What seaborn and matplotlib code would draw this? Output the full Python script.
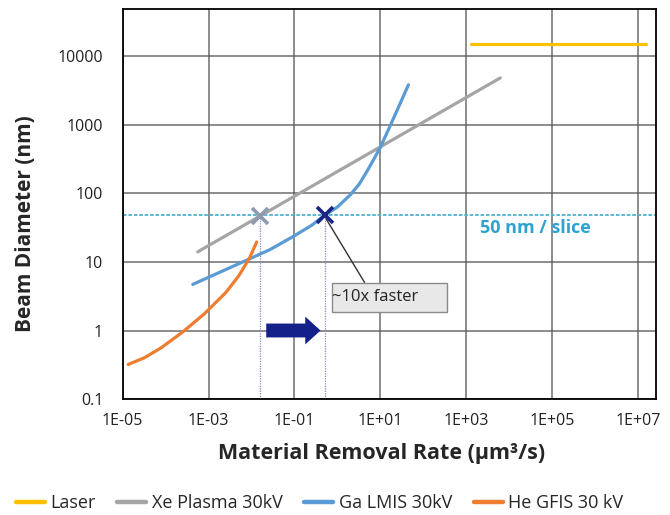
import numpy as np
import pandas as pd
import matplotlib
matplotlib.use("Agg")
import matplotlib.pyplot as plt
from matplotlib.patches import Rectangle
import seaborn as sns

# values (log-log chart)
laser_x = [1.3e3, 1.5e7]
laser_y = [15200, 15200]

xe_x = [5.6e-4, 6.2e3]
xe_y = [14, 4800]

ga_x = [4.3e-4, 1.6e-3, 6.3e-3, 0.027, 0.093, 0.25, 0.51, 1.0, 2.0, 3.2, 5.0, 7.1, 10, 16, 25, 45]
ga_y = [4.7, 6.8, 10.0, 15.1, 23.4, 34, 48, 63, 95, 135, 214, 316, 468, 890, 1660, 3800]

he_x = [1.35e-5, 3.2e-5, 7.9e-5, 2.5e-4, 7.9e-4, 2.5e-3, 5.0e-3, 8.9e-3, 1.32e-2]
he_y = [0.32, 0.40, 0.56, 0.95, 1.74, 3.55, 6.2, 11.2, 19.5]

slice_nm = 48
xe_mark = (0.0158, 47)
ga_mark = (0.51, 48)

x_ticks = [1e-5, 1e-3, 1e-1, 1e1, 1e3, 1e5, 1e7]
x_labels = ["1E-05", "1E-03", "1E-01", "1E+01", "1E+03", "1E+05", "1E+07"]
y_ticks = [0.1, 1, 10, 100, 1000, 10000]
y_labels = ["0.1", "1", "10", "100", "1000", "10000"]

series = [
    ("Laser", laser_x, laser_y, "#ffc000"),
    ("Xe Plasma 30kV", xe_x, xe_y, "#a5a5a5"),
    ("Ga LMIS 30kV", ga_x, ga_y, "#5b9bd5"),
    ("He GFIS 30 kV", he_x, he_y, "#ed7d31"),
]

sns.set_theme(style="white")
plt.rcParams["font.family"] = ["Open Sans", "DejaVu Sans"]

fig = plt.figure(figsize=(6.7, 5.15), dpi=100)
ax = fig.add_axes([0.183, 0.225, 0.796, 0.757])
ax.set_xscale("log")
ax.set_yscale("log")
ax.set_xlim(1e-5, 2.6e7)
ax.set_ylim(0.1, 4.8e4)

# grid
for v in x_ticks:
    ax.axvline(v, color="#555555", lw=1.1, alpha=0.85, zorder=1)
for v in y_ticks:
    ax.axhline(v, color="#555555", lw=1.1, alpha=0.85, zorder=1)

# 50 nm / slice line
ax.axhline(slice_nm, color="#4fb0d0", lw=1.3, ls=(0, (2, 1)), zorder=2)
ax.text(2100, 31, "50 nm / slice", color="#2ea3d0", fontsize=13,
        fontweight="bold", va="center", ha="left")

# vertical dotted guides
for mx, my in [xe_mark, ga_mark]:
    ax.plot([mx, mx], [0.1, my], color="#7f8cc4", lw=0.9, ls=(0, (1, 1)), zorder=2)

handles = []
for name, xs, ys, col in series:
    sns.lineplot(x=xs, y=ys, ax=ax, color=col, lw=2.3, label=name, zorder=3,
                 legend=False)
    handles.append(plt.Line2D([], [], color=col, lw=3.2))

# markers
ax.plot(*xe_mark, marker="x", ms=12, mew=2.6, color="#8e9bb0", zorder=5)
ax.plot(*ga_mark, marker="x", ms=12, mew=2.6, color="#1b2585", zorder=5)

# callout
ax.plot([0.55, 4.3], [42, 5.0], color="#333333", lw=1.0, zorder=4)
ax.add_patch(Rectangle((0.73, 1.88), 355 - 0.73, 5.0 - 1.88, facecolor="#e8e8e8",
                       edgecolor="#8a8a8a", lw=1.0, zorder=4))
ax.text(0.76, 3.05, "~10x faster", fontsize=12, va="center", ha="left",
        color="#222222", zorder=5)

# block arrow
ax.annotate("", xy=(0.47, 1), xytext=(0.019, 1),
            arrowprops=dict(arrowstyle="simple,head_length=0.55,head_width=1.0,tail_width=0.5",
                            mutation_scale=20, color="#14218a", lw=0),
            zorder=5)

ax.set_xticks(x_ticks)
ax.set_xticklabels(x_labels)
ax.set_yticks(y_ticks)
ax.set_yticklabels(y_labels)
ax.minorticks_off()
ax.tick_params(axis="both", length=0, labelsize=11.5, colors="#222222")
ax.tick_params(axis="y", pad=14)
ax.tick_params(axis="x", pad=10)

for s in ax.spines.values():
    s.set_color("black")
    s.set_linewidth(1.3)

ax.set_xlabel("Material Removal Rate (µm³/s)", fontsize=15.5, fontweight="bold",
              va="center")
ax.xaxis.set_label_coords(0.486, -0.14)
ax.set_ylabel("Beam Diameter (nm)", fontsize=15, fontweight="bold", va="center")
ax.yaxis.set_label_coords(-0.183, 0.45)

fig.legend(handles, [s[0] for s in series], loc="center", ncol=4,
           bbox_to_anchor=(0.477, 0.023), frameon=False, fontsize=13,
           handlelength=1.6, handletextpad=0.3, columnspacing=1.2)

fig.savefig("out.png", dpi=100)
